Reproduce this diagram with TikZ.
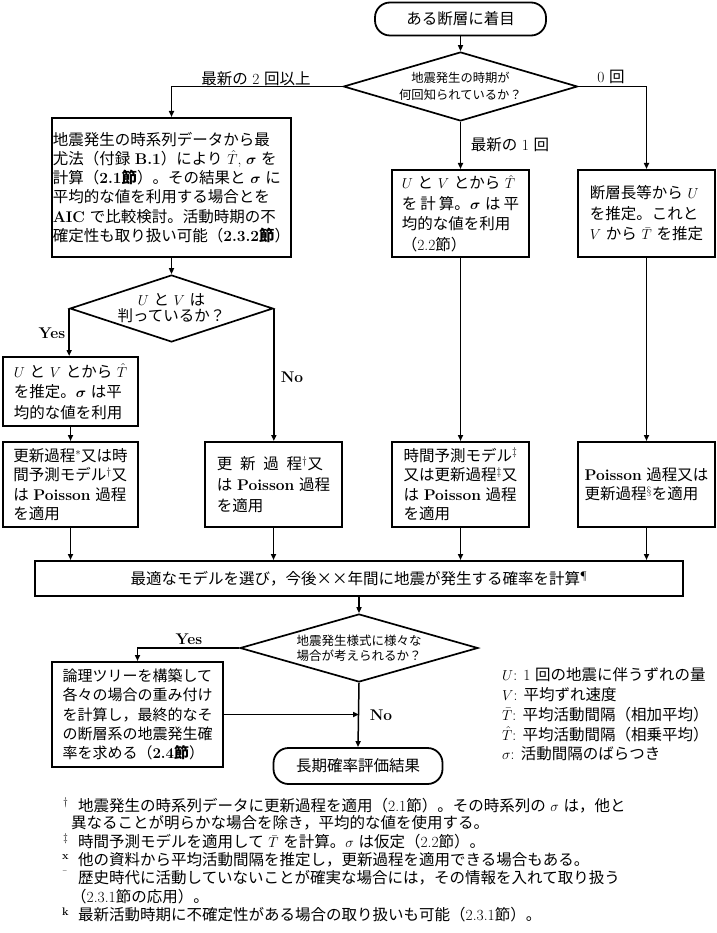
\documentclass[tikz,border=0pt]{standalone}
\usepackage{fontspec}
\usepackage{bm}
\usetikzlibrary{shapes.geometric,arrows.meta}
\newfontfamily\jpfont{Noto Sans CJK JP}
\XeTeXinterchartokenstate=1
\newXeTeXintercharclass\jpcls
\newcount\jpc
\def\setjprange#1#2{\jpc=#1\relax\loop\XeTeXcharclass\jpc=\jpcls\relax\ifnum\jpc<#2\relax\advance\jpc by 1\relax\repeat}
\setjprange{"3000}{"30FF}
\setjprange{"4E00}{"9FFF}
\setjprange{"FF00}{"FFEF}
\XeTeXcharclass"00D7=\jpcls
\XeTeXinterchartoks 0 \jpcls = {\jpfont}
\XeTeXinterchartoks 4095 \jpcls = {\jpfont}
\XeTeXinterchartoks \jpcls 0 = {\rmfamily}
\XeTeXinterchartoks \jpcls 4095 = {\rmfamily}
\tikzset{
  box/.style={draw, rectangle, line width=2pt, inner sep=0pt, align=left,
    font=\fontsize{15.5}{19.5}\selectfont},
  term/.style={draw, rectangle, line width=1.8pt, rounded corners=15pt, inner sep=0pt,
    font=\fontsize{15.5}{19}\selectfont},
  dia/.style={draw, diamond, line width=1.7pt, inner sep=-40pt, align=center},
  conn/.style={line width=1.5pt, -{Triangle[length=6pt,width=5pt]}},
  lab/.style={inner sep=0pt, font=\fontsize{15.5}{19}\selectfont},
  note/.style={anchor=west, inner sep=0pt, font=\fontsize{15.5}{19}\selectfont},
  fnmark/.style={anchor=west, inner sep=0pt, font=\fontsize{11}{12}\selectfont}
}
\begin{document}
\begin{tikzpicture}[x=1pt,y=-1pt]
\useasboundingbox (0,0) rectangle (716,933);
% start
\node[term, minimum width=171pt, minimum height=33pt] (start) at (460.5,19) {ある断層に着目};
\node[dia, minimum width=234pt, minimum height=69pt, font=\fontsize{12.3}{17}\selectfont] (d1) at (460.5,86.5) {地震発生の時期が\\何回知られているか？};
% left big box
\node[box, minimum width=239pt, minimum height=139pt, font=\fontsize{15.5}{19.2}\selectfont] (bA) at (171.5,187.5) {地震発生の時系列データから最\\尤法（付録 \textbf{B.1}）により $\hat{T}$, $\bm{\sigma}$ を\\計算（\textbf{2.1節}）。その結果と $\bm{\sigma}$ に\\平均的な値を利用する場合とを\\\textbf{AIC} で比較検討。活動時期の不\\確定性も取り扱い可能（\textbf{2.3.2節}）};
\node[dia, minimum width=203pt, minimum height=67pt, font=\fontsize{15.5}{16}\selectfont] (d2) at (171.5,308.5) {$U$ と $V$ は\\判っているか？};
\node[box, minimum width=135pt, minimum height=69pt, font=\fontsize{15.5}{20.5}\selectfont] (bB) at (70.5,391.5) {$U$ と $V$ とから $\hat{T}$\\を推定。$\bm{\sigma}$ は平\\均的な値を利用};
\node[box, minimum width=135pt, minimum height=85pt] (bC) at (70.5,484.5) {更新過程$^{*}$又は時\\間予測モデル$^{\dagger}$又\\は \textbf{Poisson} 過程\\を適用};
\node[box, minimum width=137pt, minimum height=85pt, font=\fontsize{15.5}{21}\selectfont] (bD) at (273.5,484.5) {更\hspace{0.5em}新\hspace{0.5em}過\hspace{0.5em}程$^{\dagger}$又\\は \textbf{Poisson} 過程\\を適用};
% middle column
\node[box, minimum width=137pt, minimum height=87pt, font=\fontsize{15.5}{20.5}\selectfont] (bE) at (460.5,213.5) {$U$ と $V$ とから $\hat{T}$\\を\hspace{0.2em}計\hspace{0.2em}算。$\bm{\sigma}$ は\hspace{0.2em}平\\均的な値を利用\\（2.2節）};
\node[box, minimum width=137pt, minimum height=85pt] (bF) at (460.5,484.5) {時間予測モデル$^{\ddagger}$\\又は更新過程$^{\ddagger}$又\\は \textbf{Poisson} 過程\\を適用};
% right column
\node[box, minimum width=137pt, minimum height=87pt, font=\fontsize{15.5}{20.5}\selectfont] (bG) at (646.5,213.5) {断層長等から $U$\\を推定。これと\\$V$ から $\bar{T}$ を推定};
\node[box, minimum width=137pt, minimum height=85pt] (bH) at (646.5,484.5) {\textbf{Poisson} 過程又は\\更新過程$^{\S}$を適用};
% wide box
\node[box, align=center, minimum width=648pt, minimum height=35pt] (bI) at (359,578.5) {最適なモデルを選び，今後××年間に地震が発生する確率を計算$^{\P}$};
\node[dia, minimum width=238pt, minimum height=68pt, font=\fontsize{12.5}{15}\selectfont] (d3) at (359,648) {地震発生様式に様々な\\場合が考えられるか？};
\node[box, minimum width=171pt, minimum height=105pt, font=\fontsize{15}{19.2}\selectfont] (bJ) at (137.5,714.5) {論理ツリーを構築して\\各々の場合の重み付け\\を計算し，最終的なそ\\の断層系の地震発生確\\率を求める（\textbf{2.4節}）};
\node[term, minimum width=169pt, minimum height=36pt] (fin) at (358,766) {長期確率評価結果};
% connectors
\draw[conn] (start) -- (d1);
\draw[conn] (d1.west) -| (bA.north);
\draw[conn] (d1.south) -- (bE.north);
\draw[conn] (d1.east) -| (bG.north);
\draw[conn] (bA) -- (d2);
\draw[conn] (d2.west) -- (d2.west |- bB.north);
\draw[conn] (d2.east) -- (d2.east |- bD.north);
\draw[conn] (bB) -- (bC);
\draw[conn] (bE) -- (bF);
\draw[conn] (bG) -- (bH);
\foreach \n in {bC,bD,bF,bH} \draw[conn] (\n.south) -- (\n.south |- bI.north);
\draw[conn] (bI.south) -- (d3.north);
\draw[conn] (d3.west) -| (bJ.north);
\draw[conn] (d3.south) -- (fin.north);
\coordinate (jm) at (d3.south |- bJ.east);
\draw[conn] (bJ.east) -- (jm);
% labels
\node[lab] (l2) at (256,79) {最新の 2 回以上};
\node[lab] (l0) at (611,77) {0 回};
\node[lab] (l1) at (510,145) {最新の 1 回};
\node[lab] (y1) at (52,333) {\textbf{Yes}};
\node[lab] (n1) at (292,377) {\textbf{No}};
\node[lab] (y2) at (189,639) {\textbf{Yes}};
\node[lab] (n2) at (381,715) {\textbf{No}};
% legend
\node[note] (k1) at (502,675) {$U$: 1 回の地震に伴うずれの量};
\node[note] (k2) at (502,694.5) {$V$: 平均ずれ速度};
\node[note] (k3) at (502,714.5) {$\bar{T}$: 平均活動間隔（相加平均）};
\node[note] (k4) at (502,734) {$\hat{T}$: 平均活動間隔（相乗平均）};
\node[note] (k5) at (502,753.5) {$\sigma$: 活動間隔のばらつき};
% footnotes
\node[fnmark] (m1) at (63,803) {\dag};
\node[note] (f1) at (78,806) {地震発生の時系列データに更新過程を適用（2.1節）。その時系列の $\sigma$ は，他と};
\node[note] (f1b) at (71,822.5) {異なることが明らかな場合を除き，平均的な値を使用する。};
\node[fnmark] (m2) at (63,839) {\ddag};
\node[note] (f2) at (78,842) {時間予測モデルを適用して $\bar{T}$ を計算。$\sigma$ は仮定（2.2節）。};
\node[fnmark] (m3) at (62,857) {\textbf{x}};
\node[note] (f3) at (78,860) {他の資料から平均活動間隔を推定し，更新過程を適用できる場合もある。};
\node[fnmark] (m4) at (62,874) {¯};
\node[note] (f4) at (78,878) {歴史時代に活動していないことが確実な場合には，その情報を入れて取り扱う};
\node[note] (f4b) at (71,897) {（2.3.1節の応用）。};
\node[fnmark] (m5) at (62,912) {\textbf{k}};
\node[note] (f5) at (78,915) {最新活動時期に不確定性がある場合の取り扱いも可能（2.3.1節）。};
\end{tikzpicture}
\end{document}
